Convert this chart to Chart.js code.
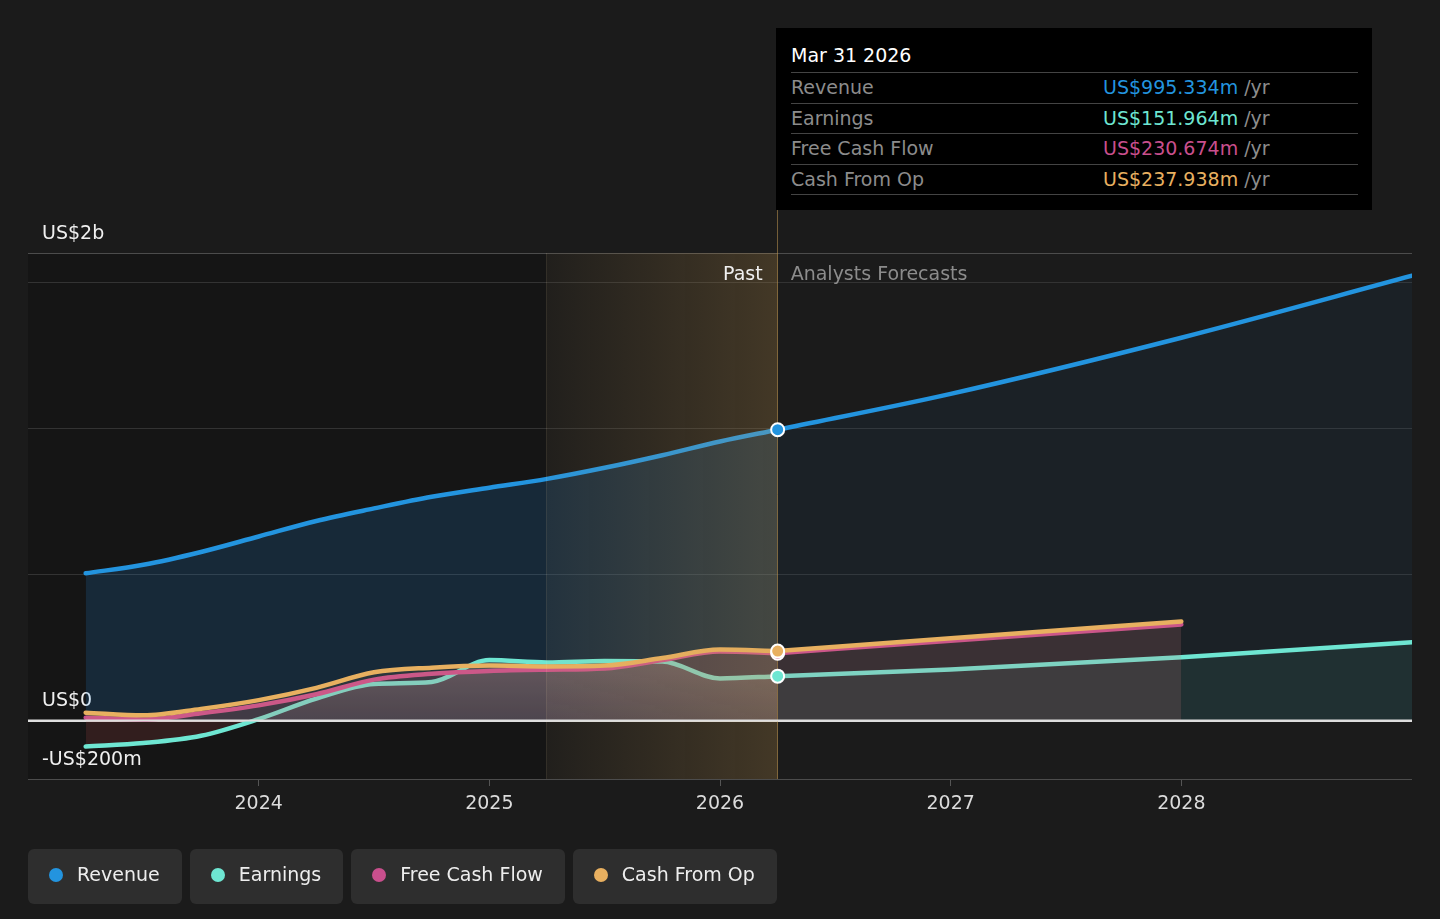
<!DOCTYPE html>
<html>
<head>
<meta charset="utf-8">
<script src="https://cdn.jsdelivr.net/npm/chart.js@4.4.1/dist/chart.umd.min.js"></script>
<style>
html,body{margin:0;padding:0;background:#1b1b1b;width:1440px;height:919px;overflow:hidden;font-family:"DejaVu Sans",sans-serif;}
#c{position:absolute;left:0;top:0;}
#tip{position:absolute;left:776px;top:28px;width:596px;height:182px;background:#000;box-sizing:border-box;padding:0 14px 0 15px;color:#fff;font-size:19px;}
#tip .title{height:45px;line-height:24px;padding-top:15px;box-sizing:border-box;border-bottom:1px solid #444;}
#tip .row{height:30.5px;line-height:29px;border-bottom:1px solid #444;box-sizing:border-box;position:relative;color:#8c8c8c;}
#tip .row .v{position:absolute;left:312px;top:0;}
#tip .row .u{color:#8c8c8c;}
#legend{position:absolute;left:28px;top:849px;display:flex;gap:8px;}
#legend .item{height:55px;padding:0 22px 6px 21px;box-sizing:border-box;background:#2e2e2e;border-radius:6px;display:flex;align-items:center;color:#eee;font-size:19px;}
#legend .dot{width:14px;height:14px;border-radius:50%;margin-right:14px;margin-top:2px;}
</style>
</head>
<body>
<canvas id="c" width="1440" height="919"></canvas>
<div id="tip"></div>
<div id="legend"></div>
<script>
// ---------- data ----------
const seriesNames = ['Revenue', 'Earnings', 'Free Cash Flow', 'Cash From Op'];
const seriesColors = ['#2394df', '#6ee6d2', '#c94f8d', '#e8b060'];

const pastX = [2023.25, 2023.5, 2023.75, 2024.0, 2024.25, 2024.5, 2024.75, 2025.0, 2025.25, 2025.5, 2025.75, 2026.0, 2026.25];
const revenuePast  = [504, 533, 577, 630, 683, 726, 766, 797, 827, 865, 908, 955, 995.334];
const earningsPast = [-89, -77, -52, 5, 75, 125, 132, 207, 199, 204, 202, 144, 151.964];
const fcfPast      = [10, 4, 25, 52, 90, 140, 160, 170, 174, 178, 207, 236, 230.674];
const cfoPast      = [27, 18, 40, 70, 112, 165, 181, 188, 185, 188, 214, 243, 237.938];

const foreX = [2026.25, 2027.0, 2028.0, 2029.0];
const revenueFore  = [995.334, 1118, 1310, 1522];
const earningsFore = [151.964, 175, 217, 268];
const fcfFore      = [230.674, 273, 329];
const cfoFore      = [237.938, 282, 339];

const tipDate = 'Mar 31 2026';
const tipValues = ['US$995.334m', 'US$151.964m', 'US$230.674m', 'US$237.938m'];

const xTicks = [2024, 2025, 2026, 2027, 2028];
const yTicks = [-200, 0, 500, 1000, 1500, 1600];
const yLabels = ['-US$200m', 'US$0', '', '', '', 'US$2b'];

const highlightStart = 2025.25;
const nowX = 2026.25;

// ---------- helpers ----------
const pts = (xs, ys) => ys.map((v, i) => ({x: xs[i], y: v}));

// tooltip box (HTML)
const tip = document.getElementById('tip');
let th = '<div class="title">' + tipDate + '</div>';
seriesNames.forEach((n, i) => {
  th += '<div class="row">' + n + '<span class="v"><span style="color:' + seriesColors[i] + '">' + tipValues[i] + '</span><span class="u"> /yr</span></span></div>';
});
tip.innerHTML = th;

// legend (HTML)
const lg = document.getElementById('legend');
seriesNames.forEach((n, i) => {
  const d = document.createElement('div');
  d.className = 'item';
  d.innerHTML = '<span class="dot" style="background:' + seriesColors[i] + '"></span>' + n;
  lg.appendChild(d);
});

Chart.defaults.font.family = '"DejaVu Sans", sans-serif';

const FONT = {family: '"DejaVu Sans", sans-serif', size: 19};

function earnGrad(ctx) {
  const c = ctx.chart;
  const a = c.chartArea;
  if (!a) return 'rgba(230,215,195,0.2)';
  const y = c.scales.y;
  const g = c.ctx.createLinearGradient(0, y.getPixelForValue(230), 0, y.getPixelForValue(0));
  g.addColorStop(0, 'rgba(230,215,195,0.24)');
  g.addColorStop(1, 'rgba(230,215,195,0.08)');
  return g;
}

const decor = {
  id: 'decor',
  beforeDraw(chart) {
    const {ctx, chartArea: a, scales: {x}} = chart;
    const xs = x.getPixelForValue(highlightStart);
    ctx.save();
    ctx.fillStyle = '#151515';
    ctx.fillRect(a.left, a.top, xs - a.left, a.bottom - a.top);
    ctx.restore();
  },
  afterDatasetDraw(chart, args) {
    if (args.index !== 3) return;
    const {ctx, chartArea: a, scales: {x}} = chart;
    const xs = x.getPixelForValue(highlightStart);
    const xe = x.getPixelForValue(nowX);
    ctx.save();
    const g = ctx.createLinearGradient(xs, 0, xe, 0);
    g.addColorStop(0, 'rgba(210,160,80,0.04)');
    g.addColorStop(1, 'rgba(210,160,80,0.22)');
    ctx.fillStyle = g;
    ctx.fillRect(xs, a.top, xe - xs, a.bottom - a.top);
    ctx.strokeStyle = 'rgba(255,225,170,0.13)';
    ctx.lineWidth = 1;
    ctx.beginPath();
    ctx.moveTo(Math.round(xs) - 0.5, a.top);
    ctx.lineTo(Math.round(xs) - 0.5, a.bottom);
    ctx.stroke();
    ctx.strokeStyle = 'rgba(190,150,80,0.55)';
    ctx.beginPath();
    ctx.moveTo(Math.round(xe) - 0.5, 210);
    ctx.lineTo(Math.round(xe) - 0.5, a.bottom);
    ctx.stroke();
    ctx.restore();
  },
  afterDatasetsDraw(chart) {
    const {ctx, chartArea: a, scales: {x, y}} = chart;
    const y0 = y.getPixelForValue(0);
    ctx.save();
    ctx.strokeStyle = '#dedede';
    ctx.lineWidth = 2;
    ctx.beginPath();
    ctx.moveTo(a.left, y0);
    ctx.lineTo(a.right, y0);
    ctx.stroke();
    const xe = x.getPixelForValue(nowX);
    ctx.font = '19px "DejaVu Sans", sans-serif';
    ctx.textBaseline = 'middle';
    ctx.textAlign = 'right';
    ctx.fillStyle = '#f0f0f0';
    ctx.fillText('Past', xe - 15, a.top + 22);
    ctx.textAlign = 'left';
    ctx.fillStyle = '#8c8c8c';
    ctx.fillText('Analysts Forecasts', xe + 13, a.top + 22);
    ctx.restore();
  }
};

const lineBase = {
  borderWidth: 4.5,
  pointRadius: 0,
  pointHoverRadius: 0,
  cubicInterpolationMode: 'monotone',
  borderCapStyle: 'round',
  borderJoinStyle: 'round'
};

const datasets = [
  Object.assign({}, lineBase, {label: 'revPast', data: pts(pastX, revenuePast), borderColor: seriesColors[0], fill: 'origin', backgroundColor: 'rgba(35,150,240,0.16)', order: 9}),
  Object.assign({}, lineBase, {label: 'earnPast', data: pts(pastX, earningsPast), borderColor: seriesColors[1], fill: {target: 'origin', below: 'rgba(170,70,70,0.2)'}, backgroundColor: earnGrad, order: 8}),
  Object.assign({}, lineBase, {label: 'fcfPast', data: pts(pastX, fcfPast), borderColor: seriesColors[2], fill: 'origin', backgroundColor: 'rgba(201,79,141,0.13)', order: 7}),
  Object.assign({}, lineBase, {label: 'cfoPast', data: pts(pastX, cfoPast), borderColor: seriesColors[3], fill: 'origin', backgroundColor: 'rgba(232,176,96,0.10)', order: 6}),
  Object.assign({}, lineBase, {label: 'revFore', data: pts(foreX, revenueFore), borderColor: seriesColors[0], fill: 'origin', backgroundColor: 'rgba(35,150,240,0.055)', order: 5}),
  Object.assign({}, lineBase, {label: 'earnFore', data: pts(foreX, earningsFore), borderColor: seriesColors[1], fill: 'origin', backgroundColor: 'rgba(107,229,209,0.08)', order: 4}),
  Object.assign({}, lineBase, {label: 'fcfFore', data: pts(foreX, fcfFore), borderColor: seriesColors[2], fill: 'origin', backgroundColor: 'rgba(201,79,141,0.10)', order: 3}),
  Object.assign({}, lineBase, {label: 'cfoFore', data: pts(foreX, cfoFore), borderColor: seriesColors[3], fill: 'origin', backgroundColor: 'rgba(232,176,96,0.08)', order: 2}),
  {
    label: 'markers',
    data: [
      {x: nowX, y: fcfPast[fcfPast.length - 1]},
      {x: nowX, y: cfoPast[cfoPast.length - 1]},
      {x: nowX, y: earningsPast[earningsPast.length - 1]},
      {x: nowX, y: revenuePast[revenuePast.length - 1]}
    ],
    showLine: false,
    pointRadius: 6.5,
    pointHoverRadius: 6.5,
    pointBorderWidth: 2,
    pointBorderColor: '#ffffff',
    pointBackgroundColor: [seriesColors[2], seriesColors[3], seriesColors[1], seriesColors[0]],
    order: 1
  }
];

new Chart(document.getElementById('c'), {
  type: 'line',
  data: {datasets},
  plugins: [decor],
  options: {
    responsive: false,
    animation: false,
    devicePixelRatio: 1,
    layout: {padding: {left: 28, right: 28, top: 253, bottom: 0}},
    plugins: {legend: {display: false}, tooltip: {enabled: false}},
    events: [],
    scales: {
      x: {
        type: 'linear',
        min: 2023,
        max: 2029,
        afterFit(s) { s.height = 140; },
        afterBuildTicks(s) { s.ticks = xTicks.map(v => ({value: v})); },
        ticks: {color: '#dcdcdc', font: FONT, padding: 7, autoSkip: false, maxRotation: 0, callback: v => String(v)},
        grid: {drawOnChartArea: false, drawTicks: true, tickLength: 7, color: '#555555'},
        border: {display: false}
      },
      y: {
        type: 'linear',
        min: -200,
        max: 1600,
        afterFit(s) { s.width = 0; },
        afterBuildTicks(s) { s.ticks = yTicks.map(v => ({value: v})); },
        ticks: {mirror: true, padding: 14, labelOffset: -19, color: '#f0f0f0', font: FONT, autoSkip: false,
          callback: v => yLabels[yTicks.indexOf(v)]},
        grid: {
          drawTicks: false,
          color: c => {
            const v = c.tick ? c.tick.value : null;
            if (v === 0) return '#dedede';
            if (v === 1600 || v === -200) return '#4c4c4c';
            return '#333333';
          },
          lineWidth: c => (c.tick && c.tick.value === 0) ? 2 : 1
        },
        border: {display: false}
      }
    }
  }
});
</script>
</body>
</html>
